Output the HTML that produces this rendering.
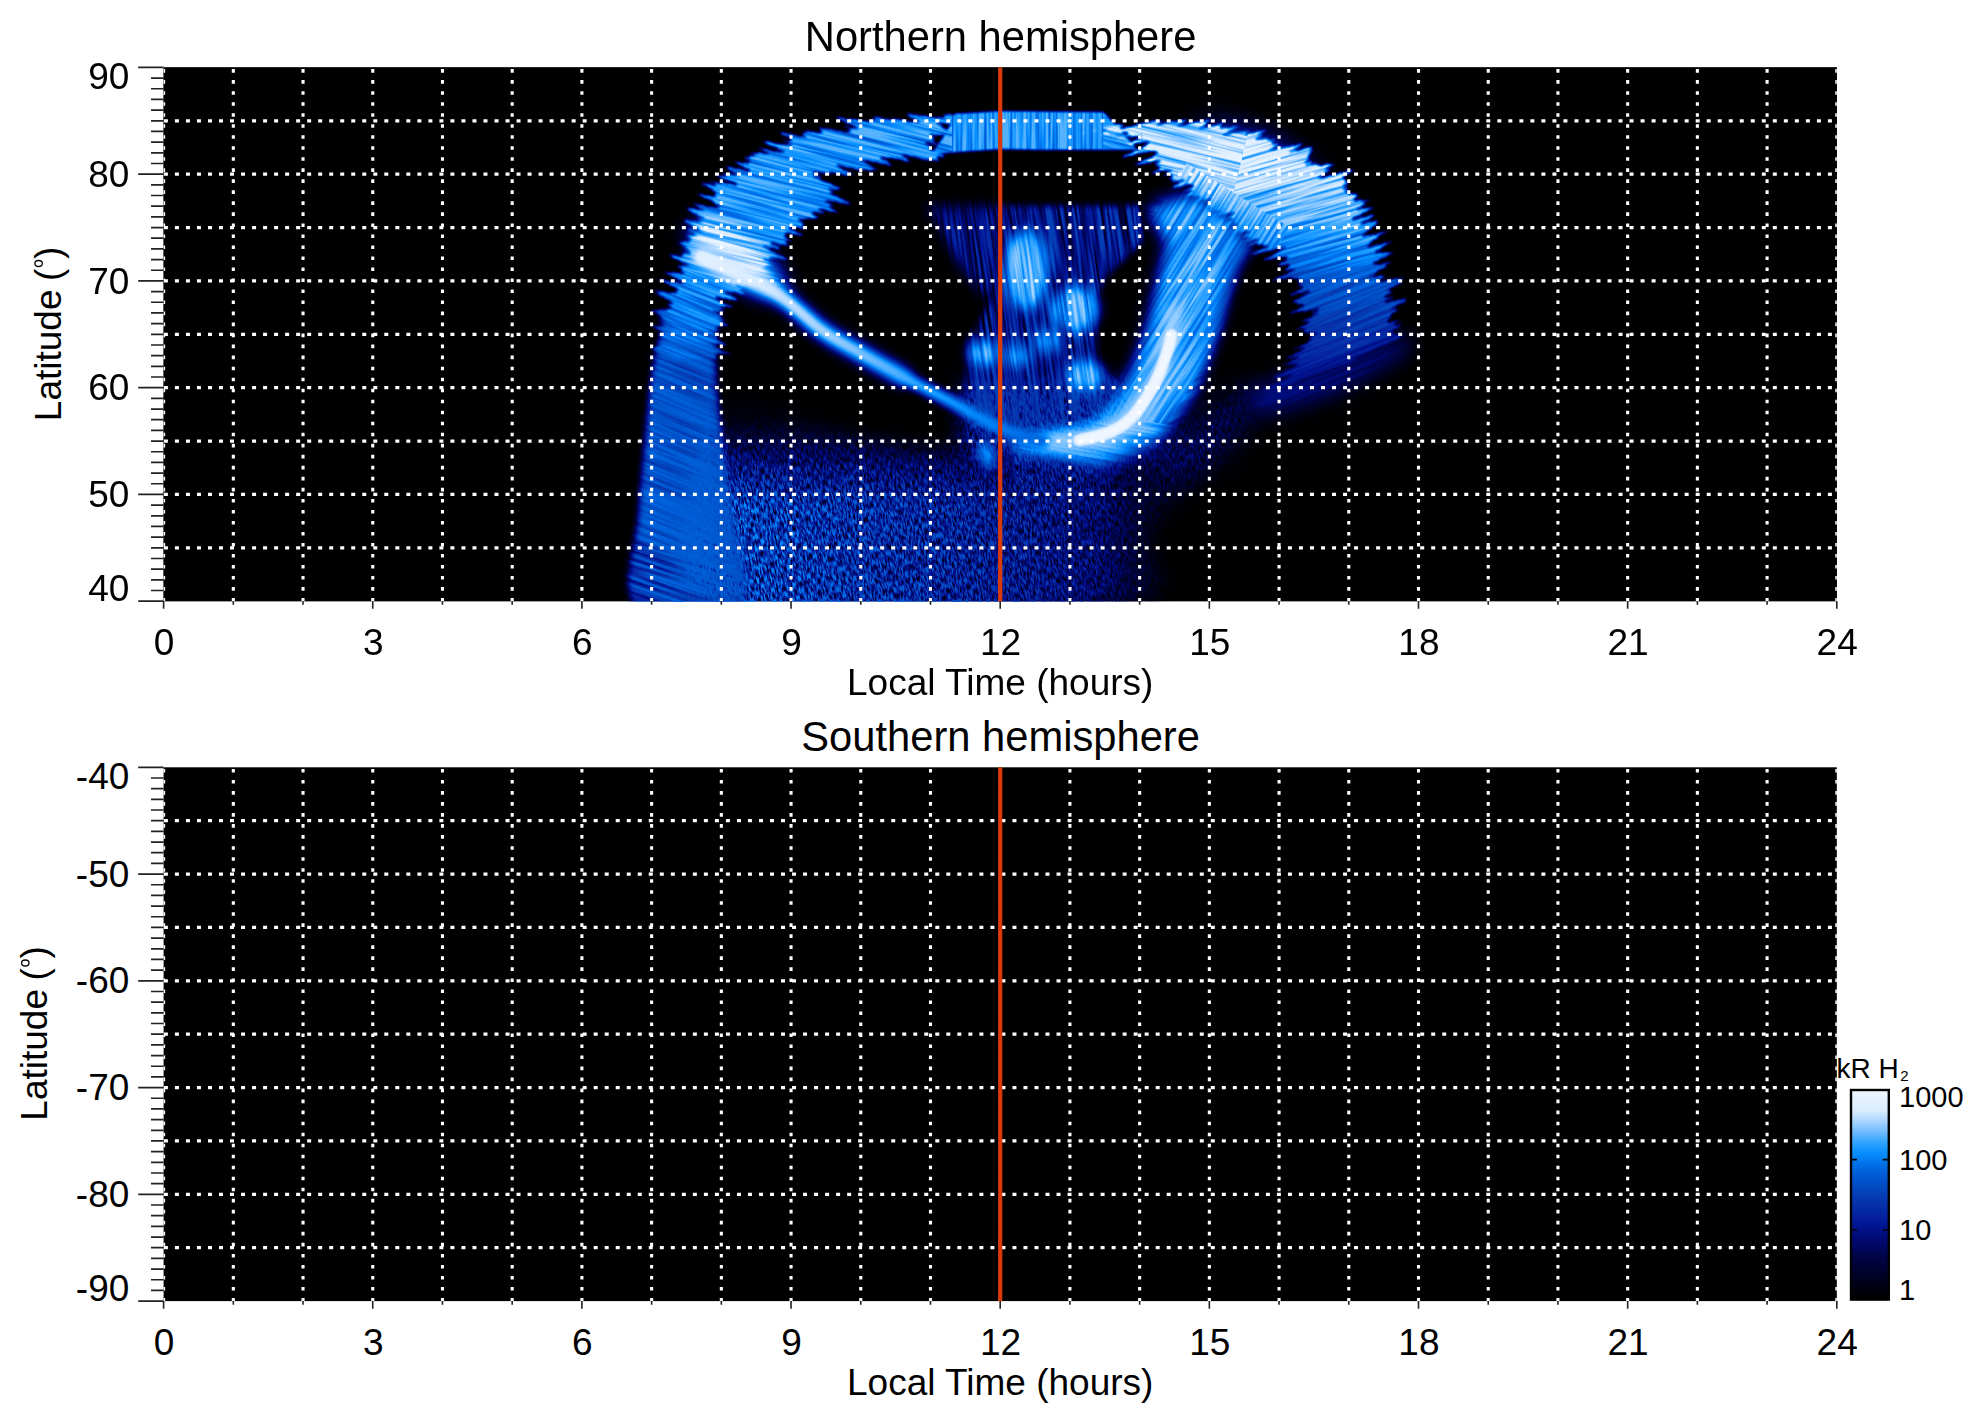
<!DOCTYPE html><html><head><meta charset="utf-8"><style>html,body{margin:0;padding:0;background:#fff;overflow:hidden}svg{display:block}</style></head><body><svg width="1983" height="1423" viewBox="0 0 1983 1423" font-family="Liberation Sans, sans-serif"><defs><clipPath id="clip0"><rect x="163.6" y="67.4" width="1673.2" height="533.8"/></clipPath><clipPath id="clip1"><rect x="163.6" y="767.3" width="1673.2" height="533.8"/></clipPath><linearGradient id="cbar" x1="0" y1="0" x2="0" y2="1"><stop offset="0.000" stop-color="rgb(240,246,255)"/><stop offset="0.050" stop-color="rgb(228,241,255)"/><stop offset="0.100" stop-color="rgb(216,236,255)"/><stop offset="0.150" stop-color="rgb(168,212,255)"/><stop offset="0.200" stop-color="rgb(112,188,255)"/><stop offset="0.250" stop-color="rgb(48,164,255)"/><stop offset="0.300" stop-color="rgb(8,144,255)"/><stop offset="0.350" stop-color="rgb(0,114,234)"/><stop offset="0.400" stop-color="rgb(0,93,214)"/><stop offset="0.450" stop-color="rgb(0,78,198)"/><stop offset="0.500" stop-color="rgb(4,62,182)"/><stop offset="0.550" stop-color="rgb(5,48,168)"/><stop offset="0.600" stop-color="rgb(5,34,160)"/><stop offset="0.650" stop-color="rgb(0,20,144)"/><stop offset="0.700" stop-color="rgb(0,11,120)"/><stop offset="0.750" stop-color="rgb(0,7,97)"/><stop offset="0.800" stop-color="rgb(0,3,68)"/><stop offset="0.850" stop-color="rgb(0,2,51)"/><stop offset="0.900" stop-color="rgb(0,1,33)"/><stop offset="0.950" stop-color="rgb(0,0,15)"/><stop offset="1.000" stop-color="rgb(0,0,0)"/></linearGradient><filter id="cmap" x="0" y="0" width="1" height="1" color-interpolation-filters="sRGB"><feComponentTransfer><feFuncR type="table" tableValues="0.000 0.000 0.000 0.000 0.000 0.000 0.000 0.000 0.000 0.000 0.000 0.000 0.000 0.000 0.000 0.000 0.000 0.000 0.004 0.012 0.020 0.020 0.020 0.024 0.031 0.019 0.006 0.000 0.000 0.000 0.000 0.000 0.000 0.000 0.016 0.031 0.094 0.157 0.238 0.339 0.439 0.527 0.615 0.696 0.772 0.847 0.866 0.885 0.904 0.922 0.941"/><feFuncG type="table" tableValues="0.000 0.001 0.002 0.003 0.004 0.006 0.007 0.008 0.010 0.012 0.015 0.019 0.025 0.031 0.039 0.047 0.055 0.071 0.089 0.111 0.133 0.155 0.177 0.199 0.220 0.245 0.270 0.295 0.320 0.345 0.367 0.389 0.424 0.471 0.518 0.565 0.596 0.627 0.662 0.700 0.737 0.775 0.813 0.850 0.888 0.925 0.933 0.941 0.949 0.957 0.965"/><feFuncB type="table" tableValues="0.000 0.025 0.049 0.074 0.101 0.130 0.159 0.188 0.215 0.242 0.269 0.307 0.358 0.408 0.439 0.471 0.502 0.544 0.577 0.602 0.627 0.640 0.653 0.669 0.690 0.715 0.740 0.765 0.791 0.816 0.841 0.866 0.899 0.941 0.971 1.000 1.000 1.000 1.000 1.000 1.000 1.000 1.000 1.000 1.000 1.000 1.000 1.000 1.000 1.000 1.000"/></feComponentTransfer></filter><filter id="b10" x="-50%" y="-50%" width="200%" height="200%"><feGaussianBlur stdDeviation="1"/></filter><filter id="b15" x="-50%" y="-50%" width="200%" height="200%"><feGaussianBlur stdDeviation="1.5"/></filter><filter id="b30" x="-50%" y="-50%" width="200%" height="200%"><feGaussianBlur stdDeviation="3"/></filter><filter id="b60" x="-50%" y="-50%" width="200%" height="200%"><feGaussianBlur stdDeviation="6"/></filter><filter id="b100" x="-50%" y="-50%" width="200%" height="200%"><feGaussianBlur stdDeviation="10"/></filter><filter id="b160" x="-50%" y="-50%" width="200%" height="200%"><feGaussianBlur stdDeviation="16"/></filter><filter id="b250" x="-50%" y="-50%" width="200%" height="200%"><feGaussianBlur stdDeviation="25"/></filter><filter id="jagA" x="-10%" y="-10%" width="120%" height="120%" color-interpolation-filters="sRGB"><feTurbulence type="fractalNoise" baseFrequency="0.004 0.22" numOctaves="2" seed="21" result="n"/><feColorMatrix in="n" type="matrix" values="1 0 0 0 0  0 0 0 0 0.5  0 0 0 0 0  0 0 0 0 1" result="nd"/><feDisplacementMap in="SourceGraphic" in2="nd" scale="60" xChannelSelector="R" yChannelSelector="G" result="d"/><feGaussianBlur in="d" stdDeviation="0.8"/></filter><filter id="jagB" x="-10%" y="-10%" width="120%" height="120%" color-interpolation-filters="sRGB"><feTurbulence type="fractalNoise" baseFrequency="0.004 0.22" numOctaves="2" seed="33" result="n"/><feColorMatrix in="n" type="matrix" values="1 0 0 0 0  0 0 0 0 0.5  0 0 0 0 0  0 0 0 0 1" result="nd"/><feDisplacementMap in="SourceGraphic" in2="nd" scale="60" xChannelSelector="R" yChannelSelector="G" result="d"/><feGaussianBlur in="d" stdDeviation="0.8"/></filter><filter id="jagC" x="-10%" y="-10%" width="120%" height="120%" color-interpolation-filters="sRGB"><feTurbulence type="fractalNoise" baseFrequency="0.004 0.22" numOctaves="2" seed="45" result="n"/><feColorMatrix in="n" type="matrix" values="1 0 0 0 0  0 0 0 0 0.5  0 0 0 0 0  0 0 0 0 1" result="nd"/><feDisplacementMap in="SourceGraphic" in2="nd" scale="60" xChannelSelector="R" yChannelSelector="G" result="d"/><feGaussianBlur in="d" stdDeviation="0.8"/></filter><filter id="nStr" x="0" y="0" width="1" height="1" color-interpolation-filters="sRGB"><feTurbulence type="fractalNoise" baseFrequency="0.01 0.32" numOctaves="2" seed="7"/><feColorMatrix type="matrix" values="0.6 0 0 0 0.62  0.6 0 0 0 0.62  0.6 0 0 0 0.62  0 0 0 0 1"/></filter><filter id="nStrL" x="0" y="0" width="1" height="1" color-interpolation-filters="sRGB"><feTurbulence type="fractalNoise" baseFrequency="0.012 0.28" numOctaves="2" seed="5"/><feColorMatrix type="matrix" values="1.1 0 0 0 0.22  1.1 0 0 0 0.22  1.1 0 0 0 0.22  0 0 0 0 1"/></filter><filter id="nStrB" x="0" y="0" width="1" height="1" color-interpolation-filters="sRGB"><feTurbulence type="fractalNoise" baseFrequency="0.015 0.3" numOctaves="2" seed="11"/><feColorMatrix type="matrix" values="1.3 0 0 0 0.1  1.3 0 0 0 0.1  1.3 0 0 0 0.1  0 0 0 0 1"/></filter><filter id="nSpk" x="0" y="0" width="1" height="1" color-interpolation-filters="sRGB"><feTurbulence type="fractalNoise" baseFrequency="0.16 0.7" numOctaves="2" seed="3"/><feColorMatrix type="matrix" values="2.2 0 0 0 -0.42  2.2 0 0 0 -0.42  2.2 0 0 0 -0.42  0 0 0 0 1"/></filter><mask id="mStr" maskUnits="userSpaceOnUse" x="0" y="0" width="1983" height="700"><g transform="rotate(0 1013.9 332.3)"><rect x="463.9" y="-317.7" width="1100" height="1300" filter="url(#nStr)"/></g><g transform="rotate(18 687.1 491.2)"><rect x="477.1" y="141.2" width="420" height="700" filter="url(#nStrL)"/></g><g transform="rotate(22 709.8 264.2)"><rect x="484.8" y="-15.8" width="450" height="560" filter="url(#nStr)"/></g><g transform="rotate(-52 1186.3 332.3)"><rect x="1021.3" y="232.3" width="330" height="200" filter="url(#nStr)"/></g><g transform="rotate(-12 1354.3 404.9)"><rect x="1054.3" y="274.9" width="600" height="260" filter="url(#nStrB)"/></g><g transform="rotate(-22 1354.3 286.9)"><rect x="1054.3" y="6.9" width="600" height="560" filter="url(#nStr)"/></g><g transform="rotate(-16 1218.1 159.9)"><rect x="818.1" y="9.9" width="800" height="300" filter="url(#nStr)"/></g><g transform="rotate(14 850.5 155.3)"><rect x="470.5" y="5.3" width="760" height="300" filter="url(#nStr)"/></g><g transform="rotate(90 1027.5 132.6)"><rect x="997.5" y="57.6" width="60" height="150" filter="url(#nStr)"/></g><g transform="rotate(-58 1163.6 314.2)"><rect x="1023.6" y="254.2" width="280" height="120" filter="url(#nStr)"/></g><g transform="rotate(10 1081.9 445.8)"><rect x="981.9" y="410.8" width="200" height="70" filter="url(#nStr)"/></g></mask><filter id="nBlob" x="0" y="0" width="1" height="1" color-interpolation-filters="sRGB"><feTurbulence type="fractalNoise" baseFrequency="0.012 0.35" numOctaves="2" seed="17"/><feColorMatrix type="matrix" values="1.9 0 0 0 -0.3  1.9 0 0 0 -0.3  1.9 0 0 0 -0.3  0 0 0 0 1"/></filter><filter id="nBlob2" x="0" y="0" width="1" height="1" color-interpolation-filters="sRGB"><feTurbulence type="fractalNoise" baseFrequency="0.01 0.3" numOctaves="2" seed="17"/><feColorMatrix type="matrix" values="0.7 0 0 0 0.5  0.7 0 0 0 0.5  0.7 0 0 0 0.5  0 0 0 0 1"/></filter><mask id="mBlob" maskUnits="userSpaceOnUse" x="0" y="0" width="1983" height="700"><g transform="rotate(82 1045 320)"><rect x="880" y="210" width="330" height="220" filter="url(#nBlob)"/></g></mask><mask id="mBlob2" maskUnits="userSpaceOnUse" x="0" y="0" width="1983" height="700"><g transform="rotate(82 1045 320)"><rect x="880" y="210" width="330" height="220" filter="url(#nBlob2)"/></g></mask><mask id="mSpk" maskUnits="userSpaceOnUse" x="0" y="0" width="1983" height="700"><g transform="rotate(78 1014 378)"><rect x="514" y="-122" width="1000" height="1000" filter="url(#nSpk)"/></g></mask><linearGradient id="spg" gradientUnits="userSpaceOnUse" x1="719" y1="0" x2="1150" y2="0"><stop offset="0" stop-color="rgb(184,184,184)"/><stop offset="0.19" stop-color="rgb(168,168,168)"/><stop offset="0.42" stop-color="rgb(153,153,153)"/><stop offset="0.65" stop-color="rgb(133,133,133)"/><stop offset="0.88" stop-color="rgb(102,102,102)"/><stop offset="1" stop-color="rgb(38,38,38)"/></linearGradient><linearGradient id="spd" gradientUnits="userSpaceOnUse" x1="0" y1="387" x2="0" y2="505"><stop offset="0" stop-color="#000" stop-opacity="1"/><stop offset="0.26" stop-color="#000" stop-opacity="0.9"/><stop offset="0.66" stop-color="#000" stop-opacity="0.35"/><stop offset="1" stop-color="#000" stop-opacity="0"/></linearGradient><linearGradient id="lbg" gradientUnits="userSpaceOnUse" x1="0" y1="242" x2="0" y2="605"><stop offset="0" stop-color="rgb(199,199,199)"/><stop offset="0.2" stop-color="rgb(184,184,184)"/><stop offset="0.35" stop-color="rgb(163,163,163)"/><stop offset="1" stop-color="rgb(153,153,153)"/></linearGradient><linearGradient id="lbh" gradientUnits="userSpaceOnUse" x1="651" y1="0" x2="742" y2="0"><stop offset="0" stop-color="rgb(158,158,158)"/><stop offset="0.6" stop-color="rgb(153,153,153)"/><stop offset="1" stop-color="rgb(143,143,143)"/></linearGradient><linearGradient id="rcg" gradientUnits="userSpaceOnUse" x1="0" y1="173" x2="0" y2="390"><stop offset="0" stop-color="rgb(235,235,235)"/><stop offset="0.31" stop-color="rgb(199,199,199)"/><stop offset="0.48" stop-color="rgb(163,163,163)"/><stop offset="0.7" stop-color="rgb(133,133,133)"/><stop offset="1" stop-color="rgb(102,102,102)"/></linearGradient><linearGradient id="stg" gradientUnits="userSpaceOnUse" x1="696" y1="255" x2="1047" y2="443"><stop offset="0" stop-color="rgb(242,242,242)"/><stop offset="0.35" stop-color="rgb(219,219,219)"/><stop offset="0.7" stop-color="rgb(189,189,189)"/><stop offset="1" stop-color="rgb(158,158,158)"/></linearGradient></defs><rect width="1983" height="1423" fill="#fff"/><rect x="163.6" y="67.4" width="1673.2" height="533.8" fill="#000"/><g filter="url(#cmap)" clip-path="url(#clip0)"><rect x="163.6" y="67.4" width="1673.2" height="533.8" fill="#000"/><g mask="url(#mSpk)"><path d="M709.8,604.6C640.6,571.4 709.8,442.8 712.0,404.9C714.3,367.1 703.3,374.7 723.4,377.7C743.4,380.7 799.0,411.7 832.3,423.1C865.6,434.4 892.8,441.2 923.1,445.8C953.3,450.3 979.8,448.1 1013.9,450.3C1047.9,452.6 1098.6,460.2 1127.3,459.4C1156.1,458.6 1172.0,445.8 1186.3,445.8C1200.7,445.8 1213.6,451.8 1213.6,459.4C1213.6,467.0 1196.9,478.3 1186.3,491.2C1175.7,504.0 1159.9,517.6 1150.0,536.6C1140.2,555.5 1200.7,593.3 1127.3,604.6C1054.0,616.0 779.0,637.9 709.8,604.6Z" fill="url(#spg)" filter="url(#b100)"/><rect x="710" y="332" width="304" height="172" fill="url(#spd)"/><path d="M1140.9,450.3C1148.5,441.2 1180.3,432.2 1195.4,423.1C1210.5,414.0 1221.1,401.9 1231.7,395.9C1242.3,389.8 1255.9,383.0 1259.0,386.8C1262.0,390.6 1257.4,406.5 1249.9,418.6C1242.3,430.7 1225.7,449.6 1213.6,459.4C1201.5,469.2 1187.8,474.5 1177.3,477.6C1166.7,480.6 1156.1,482.1 1150.0,477.6C1144.0,473.0 1133.4,459.4 1140.9,450.3Z" fill="rgb(92,92,92)" filter="url(#b160)"/><path d="M960,380L1130,380L1150,420L1100,455L960,455Z" fill="rgb(128,128,128)" filter="url(#b100)"/></g><g mask="url(#mStr)"><path d="M634.9,604.6C617.6,589.5 636.6,540.3 638.1,513.9C639.6,487.4 641.8,468.5 644.0,445.8C646.1,423.1 648.0,396.6 650.8,377.7C653.6,358.8 658.2,343.6 660.8,332.3C663.3,321.0 656.5,313.1 666.2,310.1C675.9,307.1 710.5,310.5 718.9,314.2C727.2,317.9 717.0,321.7 716.6,332.3C716.2,342.9 715.4,358.8 716.6,377.7C717.7,396.6 720.7,423.1 723.4,445.8C726.0,468.5 729.4,487.4 732.5,513.9C735.5,540.3 757.8,589.5 741.5,604.6C725.3,619.8 652.1,619.8 634.9,604.6Z" fill="url(#lbh)" filter="url(#b30)"/><g transform="rotate(18 780 250)" filter="url(#jagA)"><g transform="rotate(-18 780 250)"><path d="M666.2,310.1L680.3,251.5L696.6,215.2L716.6,184.8L740.6,162.6L761.1,152.6L791.5,136.2L821.4,130.3L851.8,122.2L880.0,120.4L923.1,116.7L958.5,113.1L932.2,155.3L867.7,167.6L821.4,174.8L843.7,200.7L821.4,211.1L793.3,231.1L776.9,247.4L771.0,261.5L755.2,277.9L724.8,301.9L716.6,332.3L715.2,359.6L657.6,359.6Z" fill="url(#lbg)"/></g></g><path d="M954.9,113.6L1000.2,110.8L1103.7,111.7L1127.3,137.2L1137.8,149.9L1040.2,150.3L1000.2,149.4L950.3,153.0L930.4,155.3L945.8,132.6Z" fill="rgb(199,199,199)" filter="url(#b10)"/><g transform="rotate(-20 1300 250)" filter="url(#jagC)"><g transform="rotate(20 1300 250)"><path d="M1095.6,128.1L1150.0,123.5L1202.7,122.2L1243.5,131.7L1268.9,139.0L1307.1,153.0L1338.8,176.2L1360.2,205.7L1377.0,243.8L1389.7,290.6L1400.1,335.0L1358.8,359.6L1304.3,377.7L1268.0,395.9L1286.2,368.6L1308.0,338.2L1303.0,308.7L1293.0,279.2L1273.5,254.7L1253.5,243.8L1239.4,235.6L1233.1,223.4L1195.4,196.2L1163.6,173.5L1137.8,149.9Z" fill="url(#rcg)"/></g></g><ellipse cx="1254.4" cy="166.7" rx="63.5" ry="25.0" transform="rotate(25 1254.4 166.7)" fill="rgb(247,247,247)" filter="url(#b160)"/><path d="M1249.9,390.0C1261.2,381.6 1306.5,373.2 1331.6,364.1C1356.6,354.9 1388.0,336.6 1400.1,335.0C1412.2,333.5 1415.6,344.9 1404.2,355.0C1392.8,365.1 1355.0,386.0 1331.6,395.9C1308.1,405.7 1277.1,415.0 1263.5,414.0C1249.9,413.0 1238.5,398.3 1249.9,390.0Z" fill="rgb(87,87,87)" filter="url(#b100)"/><path d="M1150.0,209.8L1168.2,241.5L1163.6,263.3L1146.8,335.0L1123.2,390.0L1089.7,423.5L1047.5,432.2L1013.9,439.0L1013.9,453.0L1047.5,453.0L1100.1,463.5L1153.2,442.6L1192.7,395.9L1209.5,357.7L1221.3,328.2L1229.0,298.7L1239.0,269.2L1253.5,246.5L1239.4,232.5L1233.1,223.4L1195.4,196.2Z" fill="rgb(158,158,158)" filter="url(#b60)"/><path d="M1150.0,209.8C1145.5,217.3 1165.9,232.6 1168.2,241.5C1170.4,250.5 1167.2,247.7 1163.6,263.3C1160.1,278.9 1153.6,313.9 1146.8,335.0C1140.1,356.1 1132.8,375.2 1123.2,390.0C1113.7,404.7 1102.3,416.5 1089.7,423.5C1077.0,430.6 1060.1,429.6 1047.5,432.2C1034.8,434.7 1019.5,435.5 1013.9,439.0C1008.3,442.5 1008.3,450.7 1013.9,453.0C1019.5,455.4 1033.1,451.3 1047.5,453.0C1061.8,454.8 1082.5,465.2 1100.1,463.5C1117.7,461.7 1138.1,454.9 1153.2,442.6C1168.3,430.4 1181.0,409.3 1190.9,390.0C1200.7,370.6 1205.8,349.3 1212.2,326.4C1218.6,303.6 1224.5,268.0 1229.0,252.9C1233.5,237.8 1238.8,240.6 1239.4,235.6C1240.1,230.7 1240.4,230.0 1233.1,223.4C1225.7,216.8 1209.3,198.4 1195.4,196.2C1181.6,193.9 1154.6,202.2 1150.0,209.8Z" fill="rgb(209,209,209)" filter="url(#b100)"/><ellipse cx="737.0" cy="259.7" rx="56.7" ry="21.8" transform="rotate(35 737.0 259.7)" fill="rgb(255,255,255)" filter="url(#b100)"/></g><g mask="url(#mBlob)"><path d="M1000.0,205.0L1140.0,205.0L1145.0,240.0L1110.0,275.0L1095.0,300.0L1098.0,365.0L1120.0,385.0L1090.0,410.0L1040.0,425.0L990.0,430.0L965.0,400.0L968.0,340.0L990.0,300.0L1000.0,260.0Z" fill="rgb(128,128,128)" filter="url(#b30)"/><path d="M925.0,205.0L1002.0,205.0L1002.0,290.0L985.0,300.0L955.0,262.0Z" fill="rgb(112,112,112)" filter="url(#b60)"/></g><g mask="url(#mBlob2)"><ellipse cx="1026" cy="270" rx="23" ry="42" fill="rgb(219,219,219)" filter="url(#b60)"/><ellipse cx="1075" cy="309" rx="25" ry="24" fill="rgb(214,214,214)" filter="url(#b60)"/><ellipse cx="985" cy="353" rx="18" ry="15" fill="rgb(209,209,209)" filter="url(#b60)"/><ellipse cx="1018" cy="356" rx="14" ry="13" fill="rgb(199,199,199)" filter="url(#b60)"/><ellipse cx="1047" cy="341" rx="14" ry="13" fill="rgb(199,199,199)" filter="url(#b60)"/><ellipse cx="1085" cy="375" rx="20" ry="17" fill="rgb(214,214,214)" filter="url(#b60)"/></g><path d="M1173.6,314.2C1173.3,317.6 1173.9,326.0 1171.8,335.0C1169.8,344.1 1165.2,358.8 1161.4,368.6C1157.5,378.5 1153.6,386.0 1148.7,394.0C1143.7,402.1 1138.1,410.9 1131.9,417.2C1125.6,423.5 1119.8,427.9 1111.0,431.7C1102.2,435.6 1089.8,438.5 1079.2,440.3C1068.6,442.2 1052.7,442.2 1047.5,442.6" stroke="rgb(214,214,214)" stroke-width="22" stroke-linecap="round" fill="none" opacity="0.85" filter="url(#b60)"/><path d="M1171.8,335.0C1170.1,340.6 1165.2,358.8 1161.4,368.6C1157.5,378.5 1153.6,386.0 1148.7,394.0C1143.7,402.1 1138.1,410.9 1131.9,417.2C1125.6,423.5 1119.8,427.9 1111.0,431.7C1102.2,435.6 1084.5,438.9 1079.2,440.3" stroke="rgb(255,255,255)" stroke-width="10" stroke-linecap="round" fill="none" filter="url(#b15)"/><path d="M696.2,255.2C709.0,261.2 752.4,279.0 773.3,291.5C794.2,304.0 807.1,319.8 821.4,330.0C835.8,340.3 846.1,345.0 859.6,352.7C873.0,360.5 895.1,372.4 902.2,376.3" stroke="rgb(204,204,204)" stroke-width="22" stroke-linecap="round" opacity="0.7" fill="none" filter="url(#b60)"/><path d="M696.2,255.2C709.0,261.2 752.4,279.0 773.3,291.5C794.2,304.0 807.1,319.8 821.4,330.0C835.8,340.3 846.1,345.0 859.6,352.7C873.0,360.5 887.1,368.2 902.2,376.3C917.3,384.4 934.5,392.9 950.3,401.3C966.1,409.7 980.9,419.8 997.1,426.7C1013.3,433.6 1039.1,440.0 1047.5,442.6" stroke="url(#stg)" stroke-width="14" fill="none" filter="url(#b30)"/><ellipse cx="986.6" cy="454.9" rx="8.2" ry="14.5" transform="rotate(-20 986.6 454.9)" fill="rgb(204,204,204)" filter="url(#b60)"/></g><g clip-path="url(#clip0)"><path d="M163.9 120.78H1836.8M163.9 174.16H1836.8M163.9 227.54H1836.8M163.9 280.92H1836.8M163.9 334.30H1836.8M163.9 387.68H1836.8M163.9 441.06H1836.8M163.9 494.44H1836.8M163.9 547.82H1836.8" stroke="#fff" stroke-width="3.2" stroke-dasharray="4 7.02" fill="none"/><path d="M163.60 69.1V601.2M233.32 69.1V601.2M303.03 69.1V601.2M372.75 69.1V601.2M442.47 69.1V601.2M512.18 69.1V601.2M581.90 69.1V601.2M651.62 69.1V601.2M721.34 69.1V601.2M791.05 69.1V601.2M860.77 69.1V601.2M930.49 69.1V601.2M1000.20 69.1V601.2M1069.92 69.1V601.2M1139.64 69.1V601.2M1209.35 69.1V601.2M1279.07 69.1V601.2M1348.79 69.1V601.2M1418.51 69.1V601.2M1488.22 69.1V601.2M1557.94 69.1V601.2M1627.66 69.1V601.2M1697.37 69.1V601.2M1767.09 69.1V601.2M1836.81 69.1V601.2" stroke="#fff" stroke-width="3.1" stroke-dasharray="3.6 7.42" fill="none"/></g><rect x="998.10" y="67.4" width="4.2" height="533.8" fill="#d93a0a"/><path d="M138.2 67.40H163.6M151.0 78.08H163.6M151.0 88.75H163.6M151.0 99.43H163.6M151.0 110.10H163.6M151.0 120.78H163.6M151.0 131.46H163.6M151.0 142.13H163.6M151.0 152.81H163.6M151.0 163.48H163.6M138.2 174.16H163.6M151.0 184.84H163.6M151.0 195.51H163.6M151.0 206.19H163.6M151.0 216.86H163.6M151.0 227.54H163.6M151.0 238.22H163.6M151.0 248.89H163.6M151.0 259.57H163.6M151.0 270.24H163.6M138.2 280.92H163.6M151.0 291.60H163.6M151.0 302.27H163.6M151.0 312.95H163.6M151.0 323.62H163.6M151.0 334.30H163.6M151.0 344.98H163.6M151.0 355.65H163.6M151.0 366.33H163.6M151.0 377.00H163.6M138.2 387.68H163.6M151.0 398.36H163.6M151.0 409.03H163.6M151.0 419.71H163.6M151.0 430.38H163.6M151.0 441.06H163.6M151.0 451.74H163.6M151.0 462.41H163.6M151.0 473.09H163.6M151.0 483.76H163.6M138.2 494.44H163.6M151.0 505.12H163.6M151.0 515.79H163.6M151.0 526.47H163.6M151.0 537.14H163.6M151.0 547.82H163.6M151.0 558.50H163.6M151.0 569.17H163.6M151.0 579.85H163.6M151.0 590.52H163.6M138.2 601.20H163.6" stroke="#222" stroke-width="1.7" fill="none"/><path d="M163.60 601.2V608.8M233.32 601.2V604.8M303.03 601.2V604.8M372.75 601.2V608.8M442.47 601.2V604.8M512.18 601.2V604.8M581.90 601.2V608.8M651.62 601.2V604.8M721.34 601.2V604.8M791.05 601.2V608.8M860.77 601.2V604.8M930.49 601.2V604.8M1000.20 601.2V608.8M1069.92 601.2V604.8M1139.64 601.2V604.8M1209.35 601.2V608.8M1279.07 601.2V604.8M1348.79 601.2V604.8M1418.51 601.2V608.8M1488.22 601.2V604.8M1557.94 601.2V604.8M1627.66 601.2V608.8M1697.37 601.2V604.8M1767.09 601.2V604.8M1836.81 601.2V608.8" stroke="#222" stroke-width="1.6" fill="none"/><text x="164.0" y="655.2" font-size="37" text-anchor="middle">0</text><text x="373.2" y="655.2" font-size="37" text-anchor="middle">3</text><text x="582.3" y="655.2" font-size="37" text-anchor="middle">6</text><text x="791.5" y="655.2" font-size="37" text-anchor="middle">9</text><text x="1000.6" y="655.2" font-size="37" text-anchor="middle">12</text><text x="1209.8" y="655.2" font-size="37" text-anchor="middle">15</text><text x="1418.9" y="655.2" font-size="37" text-anchor="middle">18</text><text x="1628.1" y="655.2" font-size="37" text-anchor="middle">21</text><text x="1837.2" y="655.2" font-size="37" text-anchor="middle">24</text><text x="1000.2" y="695.2" font-size="37" text-anchor="middle">Local Time (hours)</text><text x="129.3" y="88.9" font-size="37" text-anchor="end">90</text><text x="129.3" y="186.8" font-size="37" text-anchor="end">80</text><text x="129.3" y="293.5" font-size="37" text-anchor="end">70</text><text x="129.3" y="400.3" font-size="37" text-anchor="end">60</text><text x="129.3" y="507.0" font-size="37" text-anchor="end">50</text><text x="129.3" y="601.2" font-size="37" text-anchor="end">40</text><text x="1000.6" y="50.9" font-size="41.7" text-anchor="middle">Northern hemisphere</text><g transform="translate(60.6,421.2) rotate(-90)"><text x="0" y="0" font-size="37">Latitude</text><text x="140.2" y="0" font-size="37">(</text><text x="162.1" y="0" font-size="37">)</text><ellipse cx="157.7" cy="-22" rx="3.0" ry="3.7" fill="none" stroke="#000" stroke-width="1.3"/></g><rect x="163.6" y="767.3" width="1673.2" height="533.8" fill="#000"/><g clip-path="url(#clip1)"><path d="M163.9 820.68H1836.8M163.9 874.06H1836.8M163.9 927.44H1836.8M163.9 980.82H1836.8M163.9 1034.20H1836.8M163.9 1087.58H1836.8M163.9 1140.96H1836.8M163.9 1194.34H1836.8M163.9 1247.72H1836.8" stroke="#fff" stroke-width="3.2" stroke-dasharray="4 7.02" fill="none"/><path d="M163.60 769.0V1301.1M233.32 769.0V1301.1M303.03 769.0V1301.1M372.75 769.0V1301.1M442.47 769.0V1301.1M512.18 769.0V1301.1M581.90 769.0V1301.1M651.62 769.0V1301.1M721.34 769.0V1301.1M791.05 769.0V1301.1M860.77 769.0V1301.1M930.49 769.0V1301.1M1000.20 769.0V1301.1M1069.92 769.0V1301.1M1139.64 769.0V1301.1M1209.35 769.0V1301.1M1279.07 769.0V1301.1M1348.79 769.0V1301.1M1418.51 769.0V1301.1M1488.22 769.0V1301.1M1557.94 769.0V1301.1M1627.66 769.0V1301.1M1697.37 769.0V1301.1M1767.09 769.0V1301.1M1836.81 769.0V1301.1" stroke="#fff" stroke-width="3.1" stroke-dasharray="3.6 7.42" fill="none"/></g><rect x="998.10" y="767.3" width="4.2" height="533.8" fill="#d93a0a"/><path d="M138.2 767.30H163.6M151.0 777.98H163.6M151.0 788.65H163.6M151.0 799.33H163.6M151.0 810.00H163.6M151.0 820.68H163.6M151.0 831.36H163.6M151.0 842.03H163.6M151.0 852.71H163.6M151.0 863.38H163.6M138.2 874.06H163.6M151.0 884.74H163.6M151.0 895.41H163.6M151.0 906.09H163.6M151.0 916.76H163.6M151.0 927.44H163.6M151.0 938.12H163.6M151.0 948.79H163.6M151.0 959.47H163.6M151.0 970.14H163.6M138.2 980.82H163.6M151.0 991.50H163.6M151.0 1002.17H163.6M151.0 1012.85H163.6M151.0 1023.52H163.6M151.0 1034.20H163.6M151.0 1044.88H163.6M151.0 1055.55H163.6M151.0 1066.23H163.6M151.0 1076.90H163.6M138.2 1087.58H163.6M151.0 1098.26H163.6M151.0 1108.93H163.6M151.0 1119.61H163.6M151.0 1130.28H163.6M151.0 1140.96H163.6M151.0 1151.64H163.6M151.0 1162.31H163.6M151.0 1172.99H163.6M151.0 1183.66H163.6M138.2 1194.34H163.6M151.0 1205.02H163.6M151.0 1215.69H163.6M151.0 1226.37H163.6M151.0 1237.04H163.6M151.0 1247.72H163.6M151.0 1258.40H163.6M151.0 1269.07H163.6M151.0 1279.75H163.6M151.0 1290.42H163.6M138.2 1301.10H163.6" stroke="#222" stroke-width="1.7" fill="none"/><path d="M163.60 1301.1V1308.7M233.32 1301.1V1304.7M303.03 1301.1V1304.7M372.75 1301.1V1308.7M442.47 1301.1V1304.7M512.18 1301.1V1304.7M581.90 1301.1V1308.7M651.62 1301.1V1304.7M721.34 1301.1V1304.7M791.05 1301.1V1308.7M860.77 1301.1V1304.7M930.49 1301.1V1304.7M1000.20 1301.1V1308.7M1069.92 1301.1V1304.7M1139.64 1301.1V1304.7M1209.35 1301.1V1308.7M1279.07 1301.1V1304.7M1348.79 1301.1V1304.7M1418.51 1301.1V1308.7M1488.22 1301.1V1304.7M1557.94 1301.1V1304.7M1627.66 1301.1V1308.7M1697.37 1301.1V1304.7M1767.09 1301.1V1304.7M1836.81 1301.1V1308.7" stroke="#222" stroke-width="1.6" fill="none"/><text x="164.0" y="1355.2" font-size="37" text-anchor="middle">0</text><text x="373.2" y="1355.2" font-size="37" text-anchor="middle">3</text><text x="582.3" y="1355.2" font-size="37" text-anchor="middle">6</text><text x="791.5" y="1355.2" font-size="37" text-anchor="middle">9</text><text x="1000.6" y="1355.2" font-size="37" text-anchor="middle">12</text><text x="1209.8" y="1355.2" font-size="37" text-anchor="middle">15</text><text x="1418.9" y="1355.2" font-size="37" text-anchor="middle">18</text><text x="1628.1" y="1355.2" font-size="37" text-anchor="middle">21</text><text x="1837.2" y="1355.2" font-size="37" text-anchor="middle">24</text><text x="1000.2" y="1395.2" font-size="37" text-anchor="middle">Local Time (hours)</text><text x="129.3" y="788.8" font-size="37" text-anchor="end">-40</text><text x="129.3" y="886.7" font-size="37" text-anchor="end">-50</text><text x="129.3" y="993.4" font-size="37" text-anchor="end">-60</text><text x="129.3" y="1100.2" font-size="37" text-anchor="end">-70</text><text x="129.3" y="1206.9" font-size="37" text-anchor="end">-80</text><text x="129.3" y="1301.1" font-size="37" text-anchor="end">-90</text><text x="1000.6" y="750.9" font-size="41.7" text-anchor="middle">Southern hemisphere</text><g transform="translate(47.3,1120.7) rotate(-90)"><text x="0" y="0" font-size="37">Latitude</text><text x="140.2" y="0" font-size="37">(</text><text x="162.1" y="0" font-size="37">)</text><ellipse cx="157.7" cy="-22" rx="3.0" ry="3.7" fill="none" stroke="#000" stroke-width="1.3"/></g><rect x="1851" y="1090" width="37.8" height="209.6" fill="url(#cbar)" stroke="#000" stroke-width="2.4"/><path d="M1852 1159.6h5M1887.8 1159.6h-5M1852 1230h5M1887.8 1230h-5" stroke="#000" stroke-width="1.6"/><text x="1899" y="1106.8" font-size="29">1000</text><text x="1899" y="1169.9" font-size="29">100</text><text x="1899" y="1239.7" font-size="29">10</text><text x="1899" y="1299.7" font-size="29">1</text><text x="1836.5" y="1077.8" font-size="28">kR H<tspan font-size="15" dx="1.5" dy="3">2</tspan></text></svg></body></html>
